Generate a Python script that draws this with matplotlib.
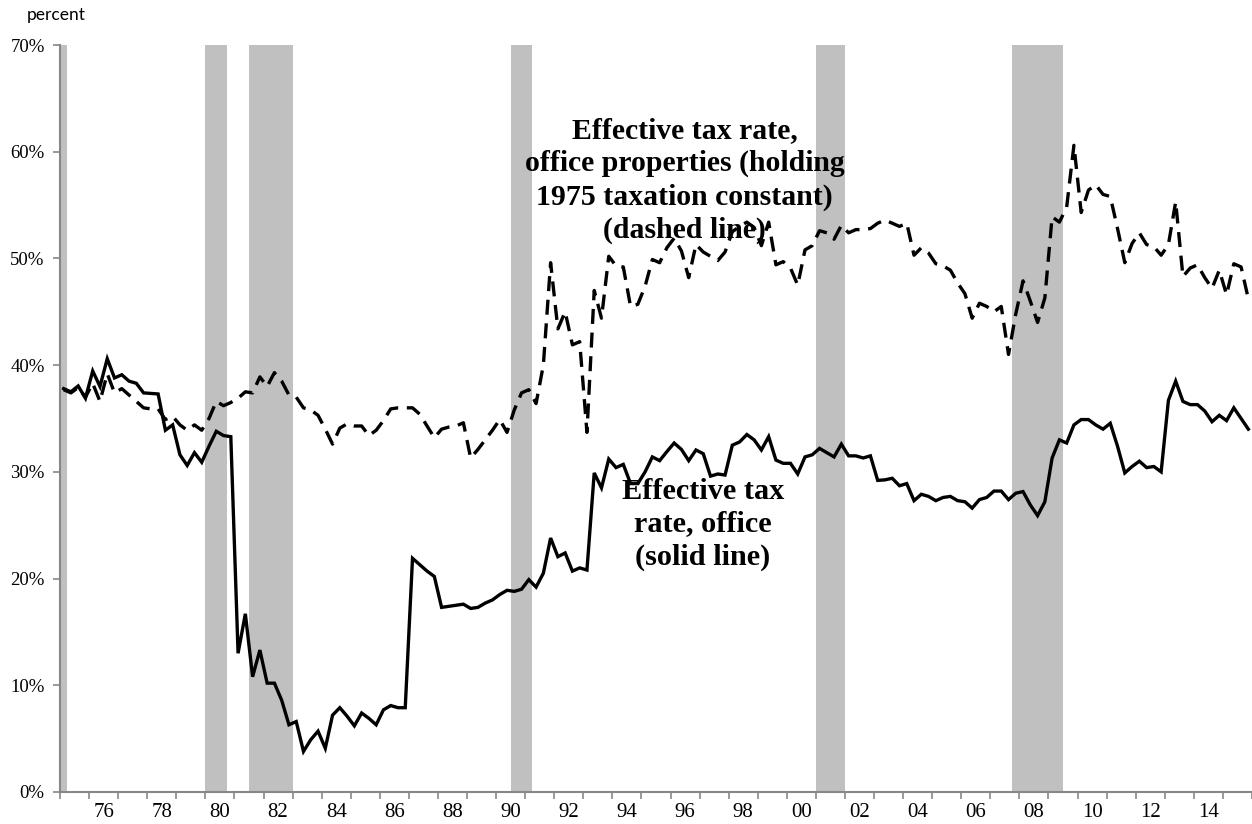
import numpy as np
import matplotlib
matplotlib.use("Agg")
import matplotlib.pyplot as plt
from matplotlib.ticker import FixedLocator, FuncFormatter

# ---------------- data (quarterly, 1975Q1 - 2015Q4) ----------------
start_year = 1975
solid_office = [
    37.8, 37.5, 38.05, 36.9, 39.45, 38.0, 40.6, 38.8, 39.1, 38.5,
    38.3, 37.4, 37.35, 37.3, 33.9, 34.4, 31.6, 30.6, 31.8, 30.9,
    32.4, 33.8, 33.4, 33.3, 13.0, 16.7, 10.8, 13.3, 10.2, 10.2,
    8.6, 6.3, 6.6, 3.8, 4.9, 5.7, 4.1, 7.2, 7.9, 7.1,
    6.2, 7.4, 6.9, 6.3, 7.7, 8.1, 7.9, 7.9, 21.9, 21.3,
    20.7, 20.2, 17.3, 17.4, 17.5, 17.6, 17.2, 17.3, 17.7, 18.0,
    18.5, 18.9, 18.8, 19.0, 19.9, 19.2, 20.5, 23.8, 22.05, 22.4,
    20.7, 21.0, 20.8, 29.9, 28.5, 31.2, 30.4, 30.7, 28.9, 28.9,
    30.0, 31.4, 31.05, 31.9, 32.7, 32.1, 31.05, 32.05, 31.7, 29.6,
    29.8, 29.7, 32.5, 32.8, 33.5, 33.0, 32.05, 33.3, 31.1, 30.8,
    30.8, 29.8, 31.4, 31.6, 32.2, 31.8, 31.4, 32.6, 31.5, 31.5,
    31.3, 31.5, 29.2, 29.25, 29.4, 28.7, 28.9, 27.3, 27.9, 27.7,
    27.3, 27.6, 27.7, 27.3, 27.2, 26.6, 27.4, 27.6, 28.2, 28.2,
    27.4, 28.0, 28.15, 26.9, 25.9, 27.2, 31.3, 33.0, 32.7, 34.4,
    34.9, 34.9, 34.4, 34.0, 34.55, 32.4, 29.9, 30.5, 31.0, 30.4,
    30.5, 30.0, 36.7, 38.5, 36.6, 36.3, 36.3, 35.7, 34.7, 35.3,
    34.8, 36.0, 35.0, 34.0,
]
dashed_1975_const = [
    37.7, 37.4, 37.9, 37.0, 38.3, 36.6, 39.2, 37.4, 37.8, 37.2,
    36.6, 36.0, 35.9, 35.9, 34.9, 35.2, 34.4, 33.9, 34.4, 33.9,
    35.0, 36.6, 36.2, 36.5, 36.9, 37.5, 37.4, 38.9, 38.0, 39.3,
    38.5, 37.2, 37.0, 36.0, 35.8, 35.3, 34.0, 32.6, 34.1, 34.5,
    34.3, 34.3, 33.4, 33.9, 34.8, 35.9, 36.0, 36.0, 36.0, 35.4,
    34.3, 33.2, 34.0, 34.2, 34.3, 34.6, 31.3, 32.1, 33.0, 33.9,
    34.9, 33.7, 35.8, 37.4, 37.7, 36.4, 40.0, 49.6, 43.4, 45.0,
    41.9, 42.2, 33.7, 47.0, 44.4, 50.2, 49.3, 49.2, 45.5, 45.7,
    47.4, 49.9, 49.6, 51.0, 51.9, 50.7, 48.2, 51.3, 50.6, 50.2,
    49.8, 50.6, 52.5, 53.0, 53.4, 52.9, 51.2, 53.4, 49.4, 49.7,
    49.1, 47.5, 50.8, 51.2, 52.6, 52.4, 51.8, 53.1, 52.4, 52.7,
    52.7, 52.8, 53.3, 53.6, 53.3, 53.0, 53.3, 50.3, 51.0, 50.5,
    49.5, 49.3, 48.9, 47.7, 46.7, 44.4, 45.8, 45.5, 45.0, 45.5,
    41.0, 44.8, 47.9, 46.0, 44.0, 46.3, 53.9, 53.4, 54.8, 60.6,
    54.3, 56.4, 56.9, 56.0, 55.8, 52.8, 49.6, 51.4, 52.4, 51.3,
    51.1, 50.3, 51.3, 55.3, 48.3, 49.1, 49.4, 48.2, 47.2, 48.9,
    46.6, 49.5, 49.2, 46.2,
]
recessions = [(1975.0, 1975.25), (1980.0, 1980.75), (1981.5, 1983.0),
              (1990.5, 1991.25), (2001.0, 2002.0), (2007.75, 2009.5)]
year_labels = list(range(1976, 2015, 2))
y_ticks = [0, 10, 20, 30, 40, 50, 60, 70]

# ---------------- figure ----------------
W, H = 1252, 824
fig = plt.figure(figsize=(W / 100, H / 100), dpi=100)
ax = fig.add_axes([60 / W, 32 / H, 1192 / W, 747 / H])

n = len(solid_office)
t = start_year + (np.arange(n) + 0.5) / 4.0

for a, b in recessions:
    ax.axvspan(a, b, color="#c0c0c0", lw=0, zorder=0)

ax.plot(t, solid_office, color="black", lw=2.4, solid_joinstyle="miter", zorder=3)
ax.plot(t, dashed_1975_const, color="black", lw=2.4, dashes=(4.5, 2.6),
        dash_capstyle="butt", zorder=3)

ax.set_xlim(1975.0, 2016.0)
ax.set_ylim(0, 70)

for s in ["top", "right"]:
    ax.spines[s].set_visible(False)
for s in ["left", "bottom"]:
    ax.spines[s].set_color("#878787")
    ax.spines[s].set_linewidth(1.5)

serif = ["Liberation Serif", "DejaVu Serif"]

ax.set_yticks(y_ticks)
ax.yaxis.set_major_formatter(FuncFormatter(lambda v, p: f"{int(v)}%"))
ax.tick_params(axis="y", direction="out", length=5, width=1.2, color="#878787",
               labelsize=13.5, pad=6)
for lab in ax.get_yticklabels():
    lab.set_fontfamily(serif)

ax.xaxis.set_major_locator(FixedLocator(np.arange(1975, 2017)))
ax.xaxis.set_major_formatter(FuncFormatter(lambda v, p: ""))
ax.xaxis.set_minor_locator(FixedLocator([y + 0.5 for y in year_labels]))
ax.xaxis.set_minor_formatter(FuncFormatter(lambda v, p: f"{int(v) % 100:02d}"))
ax.tick_params(axis="x", which="major", direction="out", length=5, width=1.2,
               color="#878787")
ax.tick_params(axis="x", which="minor", length=0, labelsize=15, pad=8)
for lab in ax.get_xticklabels(minor=True):
    lab.set_fontfamily(serif)

fig.text(56 / W, 1 - 15 / H, "percent", ha="center", va="center",
         fontsize=12.5, family=["Lato", "DejaVu Sans"])

ax.text(1996.49, 57.3,
        "Effective tax rate,\noffice properties (holding\n1975 taxation constant)\n(dashed line)",
        ha="center", va="center", fontsize=21.4, fontweight="bold",
        family=serif, linespacing=1.28, zorder=5)
ax.text(1997.11, 25.1, "Effective tax\nrate, office\n(solid line)",
        ha="center", va="center", fontsize=21.8, fontweight="bold",
        family=serif, linespacing=1.28, zorder=5)

fig.savefig("out.png", dpi=100)
